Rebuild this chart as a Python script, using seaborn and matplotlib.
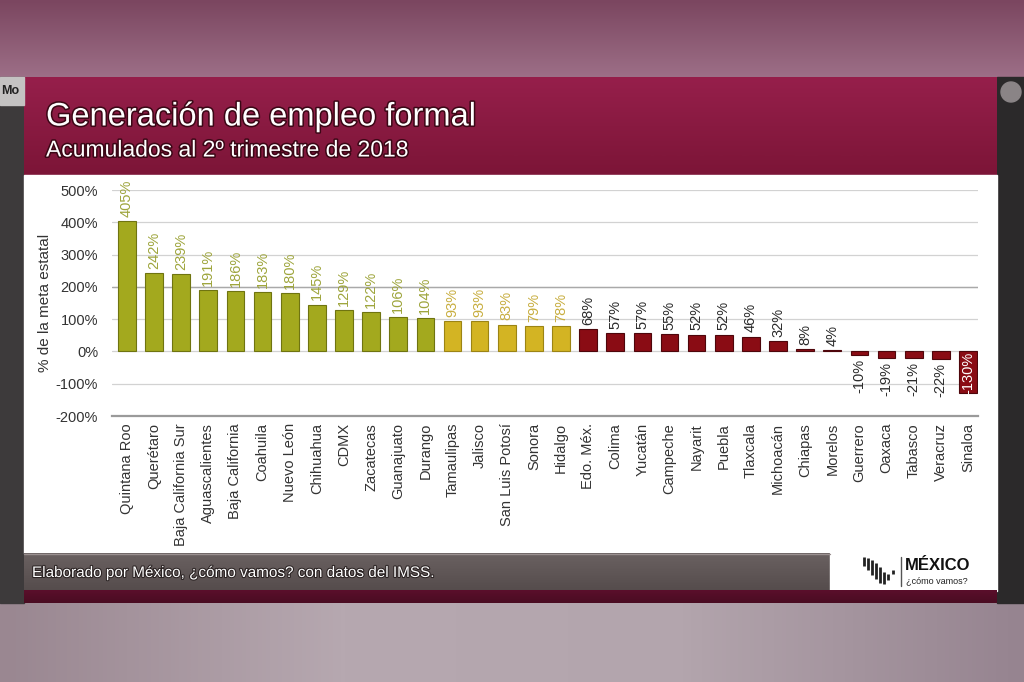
import numpy as np
import pandas as pd
import matplotlib
matplotlib.use("Agg")
import matplotlib.pyplot as plt
import matplotlib.patheffects as pe
from matplotlib.patches import Rectangle
from matplotlib.colors import LinearSegmentedColormap
import seaborn as sns

# ---------------- data ----------------
states = ["Quintana Roo", "Querétaro", "Baja California Sur", "Aguascalientes",
          "Baja California", "Coahuila", "Nuevo León", "Chihuahua", "CDMX",
          "Zacatecas", "Guanajuato", "Durango", "Tamaulipas", "Jalisco",
          "San Luis Potosí", "Sonora", "Hidalgo", "Edo. Méx.", "Colima",
          "Yucatán", "Campeche", "Nayarit", "Puebla", "Tlaxcala", "Michoacán",
          "Chiapas", "Morelos", "Guerrero", "Oaxaca", "Tabasco", "Veracruz",
          "Sinaloa"]
values = [405, 242, 239, 191, 186, 183, 180, 145, 129, 122, 106, 104, 93, 93,
          83, 79, 78, 68, 57, 57, 55, 52, 52, 46, 32, 8, 4, -10, -19, -21, -22,
          -130]
groups = ["alto"] * 12 + ["medio"] * 5 + ["bajo"] * 15
yticks = [-200, -100, 0, 100, 200, 300, 400, 500]
title = "Generación de empleo formal"
subtitle = "Acumulados al 2º trimestre de 2018"
ylabel = "% de la meta estatal"
footer = "Elaborado por México, ¿cómo vamos? con datos del IMSS."

bar_col = {"alto": "#a3a91e", "medio": "#d3b423", "bajo": "#8a0c14"}
edge_col = {"alto": "#6f7410", "medio": "#9c8414", "bajo": "#4e060b"}
lab_col = {"alto": "#9ea53c", "medio": "#c8ae40", "bajo": "#2b2b2b"}

df = pd.DataFrame({"estado": states, "valor": values, "grupo": groups})

sns.set_theme(style="white")
plt.rcParams["font.family"] = ["Liberation Sans", "DejaVu Sans"]

W, H = 1024, 682
fig = plt.figure(figsize=(W / 100, H / 100), dpi=100)

# ---------------- background (pixel coords) ----------------
bg = fig.add_axes([0, 0, 1, 1], zorder=0)
bg.set_xlim(0, W)
bg.set_ylim(H, 0)
bg.axis("off")

def vgrad(ax, x0, x1, y0, y1, c0, c1, z=0):
    cmap = LinearSegmentedColormap.from_list("g", [c0, c1])
    g = np.linspace(0, 1, 64).reshape(-1, 1)
    ax.imshow(g, cmap=cmap, extent=(x0, x1, y1, y0), aspect="auto",
              zorder=z, interpolation="bicubic")

def hgrad(ax, x0, x1, y0, y1, cols, z=0):
    cmap = LinearSegmentedColormap.from_list("h", cols)
    g = np.linspace(0, 1, 128).reshape(1, -1)
    ax.imshow(g, cmap=cmap, extent=(x0, x1, y1, y0), aspect="auto",
              zorder=z, interpolation="bicubic")

# top mauve
vgrad(bg, 0, W, 0, 78, "#7b4660", "#9d6f87", 0)
# bottom grey-mauve
hgrad(bg, 0, W, 603, H, ["#9a8791", "#b6a8b0", "#b3a5ad", "#968490"], 0)
# side strips
bg.add_patch(Rectangle((0, 77), 24, 526, color="#3d3a3b", zorder=1))
bg.add_patch(Rectangle((0, 77), 24, 28, color="#c4c2c2", zorder=2))
bg.text(1, 91, "Mo", fontsize=9, color="#222222", fontweight="bold",
        va="center", ha="left", zorder=3)
bg.add_patch(Rectangle((997, 77), 27, 526, color="#2b292a", zorder=1))
bg.add_patch(plt.Circle((1011, 92), 10, color="#8a8486", zorder=2))
# header
vgrad(bg, 24, 997, 77, 176, "#961f4b", "#7c1537", 1)
# white chart area
bg.add_patch(Rectangle((24, 175), 973, 378, color="#ffffff", zorder=1))
# footer bar
vgrad(bg, 24, 830, 553, 591, "#6a6161", "#554c4c", 1)
bg.plot([24, 830], [554, 554], color="#9a9090", lw=1, zorder=2)
bg.add_patch(Rectangle((830, 553), 167, 38, color="#ffffff", zorder=1))
vgrad(bg, 24, 997, 590, 603, "#5a0f2b", "#4a0c22", 1)

# titles
shadow = [pe.withStroke(linewidth=2.2, foreground="#3b0716")]
bg.text(46, 117, title, fontsize=23.5, color="white", va="center",
        ha="left", zorder=5, path_effects=shadow)
bg.text(46, 150, subtitle, fontsize=16.5, color="white", va="center",
        ha="left", zorder=5, path_effects=shadow)
bg.text(32, 573, footer, fontsize=11, color="white", va="center",
        ha="left", zorder=5,
        path_effects=[pe.withStroke(linewidth=1.5, foreground="#2a2222")])

# logo
logo_x = [864, 868, 872, 876, 880, 884, 888, 893]
logo_top = [557, 558, 560, 563, 567, 572, 574, 570]
logo_bot = [566, 570, 575, 579, 583, 584, 580, 574]
for lx, lt, lb in zip(logo_x, logo_top, logo_bot):
    bg.plot([lx, lx], [lt, lb], color="#222222", lw=2.0, zorder=5,
            solid_capstyle="butt")
bg.plot([901, 901], [557, 586], color="#555555", lw=1.0, zorder=5)
bg.text(905, 566, "MÉXICO", fontsize=12, fontweight="bold", color="#111111",
        va="center", ha="left", zorder=5)
bg.text(906, 581, "¿cómo vamos?", fontsize=6.5, color="#222222",
        va="center", ha="left", zorder=5)

# ---------------- chart axes ----------------
left, right, top, bottom = 112, 978, 190, 416
ax = fig.add_axes([left / W, 1 - bottom / H, (right - left) / W,
                   (bottom - top) / H], zorder=2)
ax.patch.set_alpha(0)

palette = [bar_col[g] for g in groups]
sns.barplot(data=df, x="estado", y="valor", hue="estado", palette=palette,
            legend=False, width=0.65, saturation=1, ax=ax, zorder=3)
for p, g in zip(ax.patches, groups):
    p.set_edgecolor(edge_col[g])
    p.set_linewidth(0.8)

ax.set_ylim(-200, 500)
ax.set_xlim(-0.55, len(states) - 1 + 0.37)
ax.set_yticks(yticks)
ax.set_yticklabels([f"{t}%" for t in yticks], fontsize=10.5, color="#333333")
ax.tick_params(axis="y", length=0, pad=10)
ax.tick_params(axis="x", length=0, pad=5)
ax.set_xticks(range(len(states)))
ax.set_xticklabels(states, rotation=90, fontsize=10.5, color="#333333",
                   va="top", ha="center")
ax.set_xlabel("")
ax.set_ylabel(ylabel, fontsize=11, color="#333333", labelpad=3)

ax.yaxis.grid(True, color="#d2d2d2", lw=0.9, zorder=0)
ax.xaxis.grid(False)
ax.axhline(200, color="#a9a9a9", lw=1.0, zorder=1)
for s in ["top", "right", "left"]:
    ax.spines[s].set_visible(False)
ax.spines["bottom"].set_color("#9a9a9a")
ax.spines["bottom"].set_linewidth(1.6)

# value labels
for i, (v, g) in enumerate(zip(values, groups)):
    txt = f"{v}%"
    if v <= -100:
        ax.text(i, v / 2, txt, rotation=90, ha="center", va="center",
                fontsize=10.5, color="white", zorder=5)
    elif v >= 0:
        ax.annotate(txt, (i, v), xytext=(0, 3), textcoords="offset points",
                    rotation=90, ha="center", va="bottom", fontsize=10.5,
                    color=lab_col[g], zorder=5, annotation_clip=False)
    else:
        ax.annotate(txt, (i, v), xytext=(0, -3), textcoords="offset points",
                    rotation=90, ha="center", va="top", fontsize=10.5,
                    color=lab_col[g], zorder=5, annotation_clip=False)

fig.savefig("out.png", dpi=100)
